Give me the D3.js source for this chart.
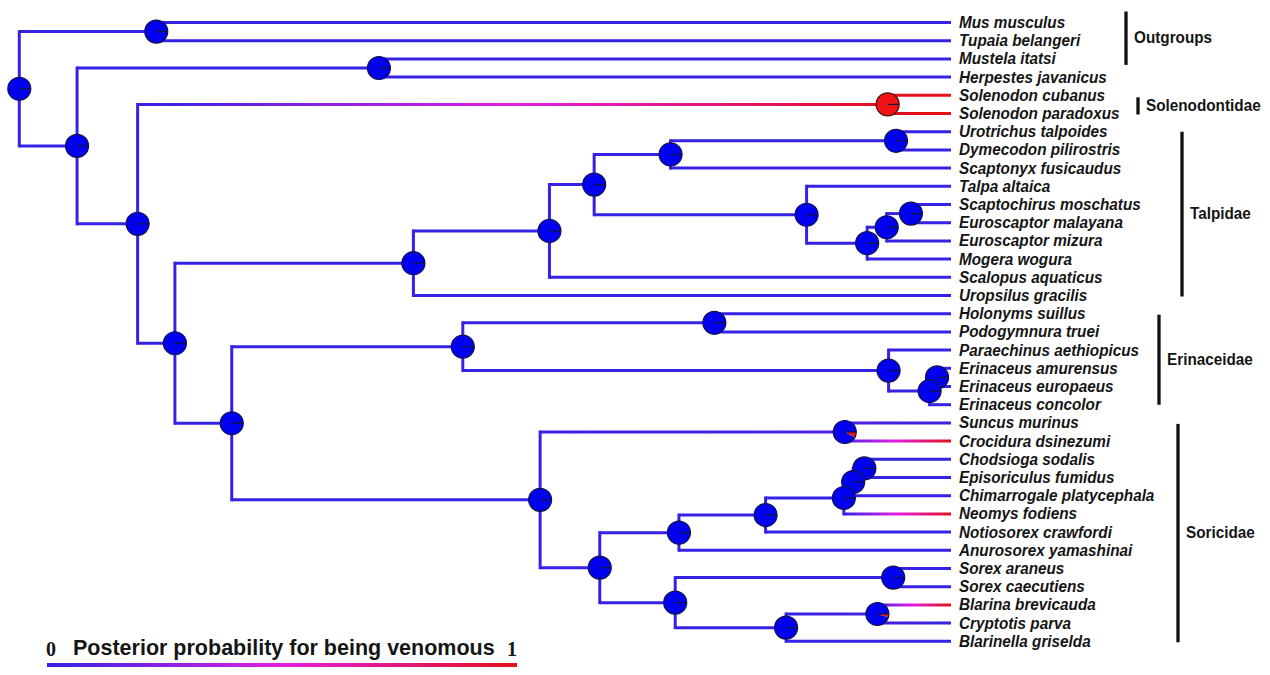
<!DOCTYPE html>
<html>
<head>
<meta charset="utf-8">
<script src="https://d3js.org/d3.v7.min.js"></script>
<style>
    body { margin: 0; background: #fff; }
    svg { display: block; }
    .tip {
        font-family: "Liberation Sans", Arial, sans-serif;
        font-weight: bold;
        font-style: italic;
        font-size: 17px;
        fill: #151515;
    }
    .group {
        font-family: "Liberation Sans", Arial, sans-serif;
        font-weight: bold;
        font-size: 17px;
        fill: #151515;
    }
    .legend-title {
        font-family: "Liberation Sans", Arial, sans-serif;
        font-weight: bold;
        font-size: 21.5px;
        fill: #151515;
    }
    .legend-tick {
        font-family: "Liberation Serif", "Times New Roman", serif;
        font-weight: bold;
        font-size: 20px;
        fill: #151515;
    }
</style>
</head>
<body>
<div id="chart"></div>
<script>
// tips, top to bottom
const tips = [
    "Mus musculus", "Tupaia belangeri", "Mustela itatsi", "Herpestes javanicus",
    "Solenodon cubanus", "Solenodon paradoxus",
    "Urotrichus talpoides", "Dymecodon pilirostris", "Scaptonyx fusicaudus", "Talpa altaica",
    "Scaptochirus moschatus", "Euroscaptor malayana", "Euroscaptor mizura", "Mogera wogura",
    "Scalopus aquaticus", "Uropsilus gracilis",
    "Holonyms suillus", "Podogymnura truei", "Paraechinus aethiopicus", "Erinaceus amurensus",
    "Erinaceus europaeus", "Erinaceus concolor",
    "Suncus murinus", "Crocidura dsinezumi", "Chodsioga sodalis", "Episoriculus fumidus",
    "Chimarrogale platycephala", "Neomys fodiens", "Notiosorex crawfordi", "Anurosorex yamashinai",
    "Sorex araneus", "Sorex caecutiens", "Blarina brevicauda", "Cryptotis parva", "Blarinella griselda"
]
// posterior probability of being venomous at each tip
const tipVenom = [
    0, 0, 0, 0,
    1, 1,
    0, 0, 0, 0, 0, 0, 0, 0, 0, 0,
    0, 0, 0, 0, 0, 0,
    0, 1, 0, 0, 0, 1, 0, 0, 0, 0, 1, 0, 0
]
// internal nodes: name, age (root = 100), children, posterior probability of being venomous
const clades = [
    ["Root", 100, ["n1", "n2"], 0],
    ["n1", 85.3, ["Mus musculus", "Tupaia belangeri"], 0],
    ["n2", 93.8, ["n3", "n4"], 0],
    ["n3", 61.4, ["Mustela itatsi", "Herpestes javanicus"], 0],
    ["n4", 87.3, ["Solenodontidae", "n5"], 0],
    ["Solenodontidae", 6.8, ["Solenodon cubanus", "Solenodon paradoxus"], 1],
    ["n5", 83.3, ["Talpidae", "n6"], 0],
    ["Talpidae", 57.7, ["t1", "Uropsilus gracilis"], 0],
    ["t1", 43.1, ["t2", "Scalopus aquaticus"], 0],
    ["t2", 38.3, ["t3", "t5"], 0],
    ["t3", 30.1, ["t4", "Scaptonyx fusicaudus"], 0],
    ["t4", 5.9, ["Urotrichus talpoides", "Dymecodon pilirostris"], 0],
    ["t5", 15.5, ["Talpa altaica", "t6"], 0],
    ["t6", 9.0, ["t7", "Mogera wogura"], 0],
    ["t7", 6.9, ["t8", "Euroscaptor mizura"], 0],
    ["t8", 4.3, ["Scaptochirus moschatus", "Euroscaptor malayana"], 0],
    ["n6", 77.2, ["Erinaceidae", "Soricidae"], 0],
    ["Erinaceidae", 52.4, ["e1", "e2"], 0],
    ["e1", 25.4, ["Holonyms suillus", "Podogymnura truei"], 0],
    ["e2", 6.7, ["Paraechinus aethiopicus", "e3"], 0],
    ["e3", 2.3, ["e4", "Erinaceus concolor"], 0],
    ["e4", 1.5, ["Erinaceus amurensus", "Erinaceus europaeus"], 0],
    ["Soricidae", 44.1, ["s1", "s2"], 0],
    ["s1", 11.4, ["Suncus murinus", "Crocidura dsinezumi"], 0.08],
    ["s2", 37.7, ["s3", "s8"], 0],
    ["s3", 29.2, ["s4", "Anurosorex yamashinai"], 0],
    ["s4", 19.9, ["s5", "Notiosorex crawfordi"], 0],
    ["s5", 11.5, ["s6", "Neomys fodiens"], 0],
    ["s6", 10.5, ["s7", "Chimarrogale platycephala"], 0],
    ["s7", 9.3, ["Chodsioga sodalis", "Episoriculus fumidus"], 0],
    ["s8", 29.6, ["s9", "s10"], 0],
    ["s9", 6.2, ["Sorex araneus", "Sorex caecutiens"], 0],
    ["s10", 17.7, ["s11", "Blarinella griselda"], 0],
    ["s11", 7.9, ["Blarina brevicauda", "Cryptotis parva"], 0.05]
]
const groups = ["Outgroups", "Solenodontidae", "Talpidae", "Erinaceidae", "Soricidae"]
const groupFirst = ["Mus musculus", "Solenodon cubanus", "Urotrichus talpoides", "Holonyms suillus", "Suncus murinus"]
const groupLast = ["Mustela itatsi", "Solenodon paradoxus", "Uropsilus gracilis", "Erinaceus concolor", "Blarinella griselda"]
const legendTicks = [0, 1]
const legendTitle = "Posterior probability for being venomous"

// layout
const w = 1270
const h = 675
const groupBarX = [1126, 1138, 1182, 1159, 1178]
const groupPad = [[-11, 6], [2, 1], [0, 1], [1, 0], [1, 1]]
const r = 11.5
const blueNode = "#0000ee"
const redNode = "#ee1414"

const cladeMap = new Map(clades.map(c => [c[0], c]))
function build(name) {
    if (cladeMap.has(name)) {
        const c = cladeMap.get(name)
        return { name: name, age: c[1], p: c[3], children: c[2].map(build) }
    }
    return { name: name, age: 0, p: tipVenom[tips.indexOf(name)] }
}
const root = d3.hierarchy(build("Root"))

const xScale = d3.scaleLinear().domain([100, 0]).range([19.3, 951])
const yScale = d3.scalePoint().domain(tips).range([22.5, 641.3])
const colour = d3.scaleLinear()
    .domain([0, 0.5, 1])
    .range(["#3522e4", "#e21ee2", "#e3101c"])

root.eachAfter(d => {
    d.x = xScale(d.data.age)
    d.y = d.children ? d3.mean(d.children, c => c.y) : yScale(d.data.name)
})

const svg = d3.select('#chart')
    .append('svg')
    .attr('width', w)
    .attr('height', h)

const defs = svg.append('defs')
const branches = svg.append('g')
    .attr('fill', 'none')
    .attr('stroke-width', 3)

// vertical connectors
root.descendants().filter(d => d.children).forEach(d => {
    branches.append('line')
        .attr('x1', d.x).attr('x2', d.x)
        .attr('y1', d3.min(d.children, c => c.y) - 1.5)
        .attr('y2', d3.max(d.children, c => c.y) + 1.5)
        .attr('stroke', colour(d.data.p))
})

// horizontal branches, coloured from parent state to child state
root.descendants().filter(d => d.parent).forEach((d, i) => {
    const p0 = d.parent.data.p
    const p1 = d.data.p
    let stroke = colour(p1)
    if (p0 !== p1) {
        const id = 'branch' + i
        const grad = defs.append('linearGradient')
            .attr('id', id)
            .attr('gradientUnits', 'userSpaceOnUse')
            .attr('x1', d.parent.x).attr('x2', d.x)
            .attr('y1', 0).attr('y2', 0)
        d3.range(0, 1.01, 0.1).forEach(t => {
            grad.append('stop')
                .attr('offset', t)
                .attr('stop-color', colour(p0 + (p1 - p0) * t))
        })
        stroke = 'url(#' + id + ')'
    }
    branches.append('line')
        .attr('x1', d.parent.x).attr('x2', d.x)
        .attr('y1', d.y).attr('y2', d.y)
        .attr('stroke', stroke)
})

// pie charts at internal nodes
const pie = d3.pie().sort(null).value(v => v)
    .startAngle(Math.PI / 2).endAngle(Math.PI / 2 + 2 * Math.PI)
const arc = d3.arc().innerRadius(0).outerRadius(r)
const inner = root.descendants().filter(d => d.children).reverse()

const nodes = svg.append('g').selectAll('g')
    .data(inner)
    .enter()
    .append('g')
    .attr('transform', d => 'translate(' + d.x + ',' + d.y + ')')

nodes.selectAll('path')
    .data(d => pie([d.data.p, 1 - d.data.p]))
    .enter()
    .append('path')
    .attr('d', arc)
    .attr('fill', (s, i) => i === 0 ? redNode : blueNode)

nodes.append('circle')
    .attr('r', r)
    .attr('fill', 'none')
    .attr('stroke', d => d.data.p > 0.5 ? '#4a1010' : '#14144a')
    .attr('stroke-width', 1.2)

nodes.append('line')
    .attr('x1', 0).attr('x2', r)
    .attr('y1', 0).attr('y2', 0)
    .attr('stroke', '#14143a')
    .attr('stroke-width', 1.2)

// tip labels
svg.append('g').selectAll('text')
    .data(tips)
    .enter()
    .append('text')
    .attr('class', 'tip')
    .attr('transform', d => 'translate(959,' + (yScale(d) + 5.5) + ') scale(0.9,1)')
    .text(d => d)

// group bars
groups.forEach((g, i) => {
    const y0 = yScale(groupFirst[i]) + groupPad[i][0]
    const y1 = yScale(groupLast[i]) + groupPad[i][1]
    svg.append('line')
        .attr('x1', groupBarX[i]).attr('x2', groupBarX[i])
        .attr('y1', y0).attr('y2', y1)
        .attr('stroke', '#111')
        .attr('stroke-width', 3.3)
    svg.append('text')
        .attr('class', 'group')
        .attr('transform', 'translate(' + (groupBarX[i] + 8) + ',' + ((y0 + y1) / 2 + 5) + ') scale(0.9,1)')
        .text(g)
})

// colour legend
const legendScale = d3.scaleLinear().domain([0, 1]).range([47, 517])
const lg = defs.append('linearGradient')
    .attr('id', 'legendGrad')
lg.selectAll('stop')
    .data(d3.range(0, 1.01, 0.1))
    .enter()
    .append('stop')
    .attr('offset', d => d)
    .attr('stop-color', d => colour(d))

svg.append('rect')
    .attr('x', legendScale(0))
    .attr('y', 663)
    .attr('width', legendScale(1) - legendScale(0))
    .attr('height', 4)
    .attr('fill', 'url(#legendGrad)')

svg.selectAll('.legend-tick')
    .data(legendTicks)
    .enter()
    .append('text')
    .attr('class', 'legend-tick')
    .attr('x', d => legendScale(d) + (d === 0 ? 4 : -5))
    .attr('y', 656)
    .attr('text-anchor', 'middle')
    .text(d => d)

svg.append('text')
    .attr('class', 'legend-title')
    .attr('x', 73)
    .attr('y', 655)
    .text(legendTitle)
</script>
</body>
</html>
